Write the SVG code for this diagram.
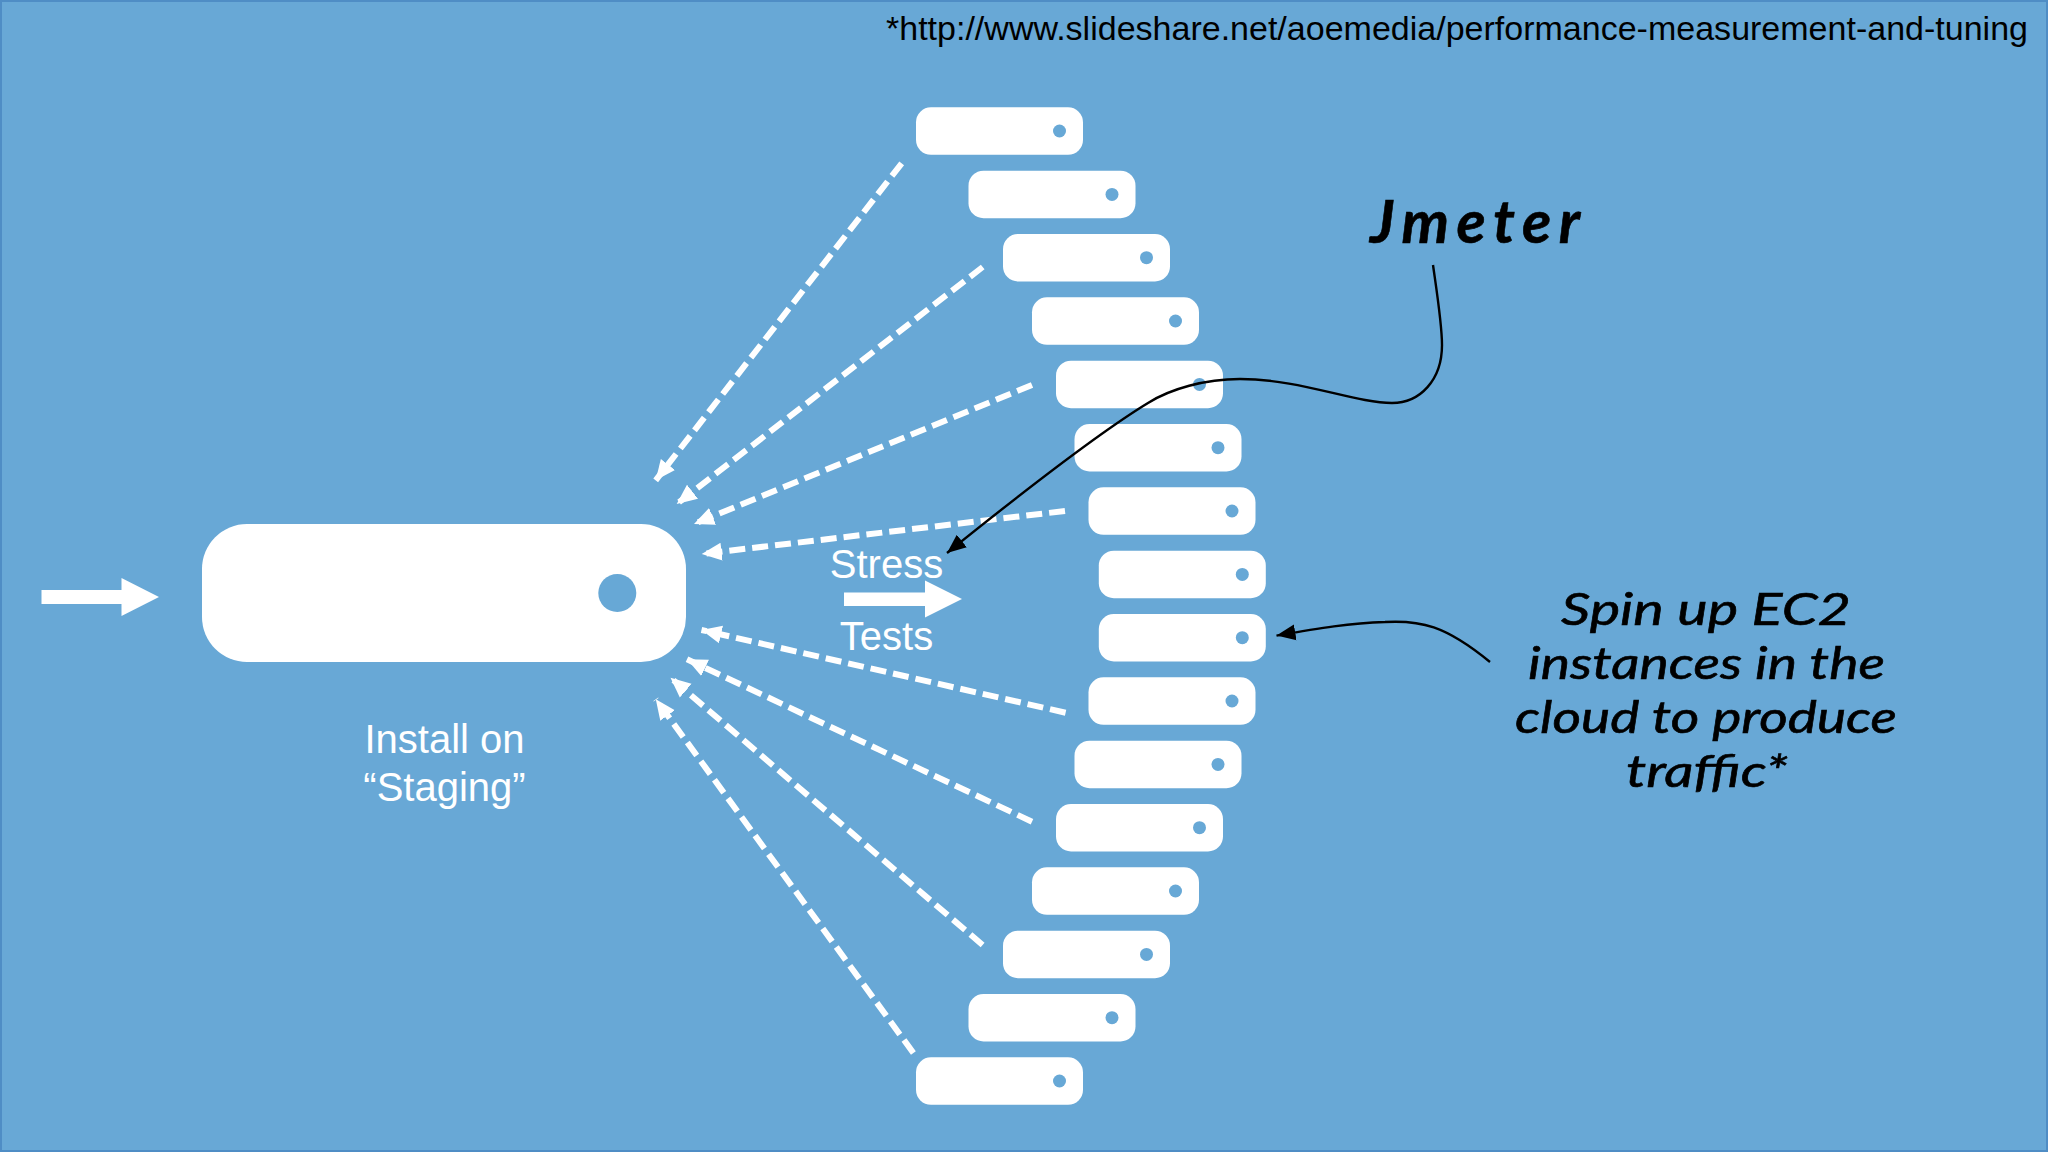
<svg xmlns="http://www.w3.org/2000/svg" width="2048" height="1152" viewBox="0 0 2048 1152">
<style>
.pill{fill:#fff}
.hole{fill:#67a8d6}
.dash{fill:none;stroke:#fff;stroke-width:6;stroke-dasharray:16 7;marker-end:url(#wh)}
.curve{fill:none;stroke:#000;stroke-width:2.400}
.lbl{font-family:"Liberation Sans",Arial,sans-serif;fill:#fff;font-size:40px;text-anchor:middle}
.hand{font-family:Lato,"Open Sans",sans-serif;font-style:italic;fill:#000;stroke:#000;stroke-width:.6;font-size:44px}
#jmeter-label{font-size:60px;font-weight:700}
</style>
<defs>
<marker id="wh" markerUnits="userSpaceOnUse" markerWidth="22" markerHeight="20" refX="20" refY="9.500" orient="auto"><path d="M20 9.500L0 0.500L0 18.500Z" fill="#fff"/></marker>
<marker id="bk" markerUnits="userSpaceOnUse" markerWidth="20" markerHeight="20" refX="19" refY="9" orient="auto"><path d="M19 9L0 1L0 17Z" fill="#000"/></marker>
<rect id="srv" class="pill" width="167" height="47.500" rx="15" ry="15"/>
</defs>
<rect id="background" x="1" y="1" width="2046" height="1150" fill="#68a8d6" stroke="#4f8dc5" stroke-width="2"/>
<text id="source" x="886" y="40" font-family="'Liberation Sans',Arial,sans-serif" font-size="33" fill="#000" textLength="1142" lengthAdjust="spacingAndGlyphs">*http://www.slideshare.net/aoemedia/performance-measurement-and-tuning</text>
<g id="staging">
<rect class="pill" x="202" y="524" width="484" height="138" rx="45" ry="45"/>
<circle class="hole" cx="617.300" cy="593" r="19"/>
<text class="lbl" x="444.500" y="753">Install on</text>
<text class="lbl" x="444.500" y="801">“Staging”</text>
</g>
<g id="instances">
<g id="i1"><use href="#srv" x="916" y="107.300"/><circle class="hole" cx="1059.500" cy="131" r="6.500"/></g>
<g id="i2"><use href="#srv" x="968.500" y="170.700"/><circle class="hole" cx="1112" cy="194.400" r="6.500"/></g>
<g id="i3"><use href="#srv" x="1003" y="234"/><circle class="hole" cx="1146.500" cy="257.700" r="6.500"/></g>
<g id="i4"><use href="#srv" x="1032" y="297.300"/><circle class="hole" cx="1175.500" cy="321" r="6.500"/></g>
<g id="i5"><use href="#srv" x="1056" y="360.700"/><circle class="hole" cx="1199.500" cy="384.400" r="6.500"/></g>
<g id="i6"><use href="#srv" x="1074.500" y="424"/><circle class="hole" cx="1218" cy="447.700" r="6.500"/></g>
<g id="i7"><use href="#srv" x="1088.500" y="487.300"/><circle class="hole" cx="1232" cy="511" r="6.500"/></g>
<g id="i8"><use href="#srv" x="1098.800" y="550.700"/><circle class="hole" cx="1242.300" cy="574.400" r="6.500"/></g>
<g id="i9"><use href="#srv" x="1098.800" y="614"/><circle class="hole" cx="1242.300" cy="637.700" r="6.500"/></g>
<g id="i10"><use href="#srv" x="1088.500" y="677.300"/><circle class="hole" cx="1232" cy="701" r="6.500"/></g>
<g id="i11"><use href="#srv" x="1074.500" y="740.700"/><circle class="hole" cx="1218" cy="764.400" r="6.500"/></g>
<g id="i12"><use href="#srv" x="1056" y="804"/><circle class="hole" cx="1199.500" cy="827.700" r="6.500"/></g>
<g id="i13"><use href="#srv" x="1032" y="867.300"/><circle class="hole" cx="1175.500" cy="891" r="6.500"/></g>
<g id="i14"><use href="#srv" x="1003" y="930.700"/><circle class="hole" cx="1146.500" cy="954.400" r="6.500"/></g>
<g id="i15"><use href="#srv" x="968.500" y="994"/><circle class="hole" cx="1112" cy="1017.700" r="6.500"/></g>
<g id="i16"><use href="#srv" x="916" y="1057.300"/><circle class="hole" cx="1059.500" cy="1081" r="6.500"/></g>
</g>
<g id="connectors">
<path class="dash" d="M901.700 163.300L655.700 480.300"/>
<path class="dash" d="M982.700 267L676.700 504"/>
<path class="dash" d="M1032 385L694 524"/>
<path class="dash" d="M1065 511L701.700 554"/>
<path class="dash" d="M1065.600 712.700L701.500 630"/>
<path class="dash" d="M1032 821.700L687 659.300"/>
<path class="dash" d="M982.600 945L670.500 677.700"/>
<path class="dash" d="M913.400 1053L655.800 699.300"/>
<path id="in-arrow" d="M41.500 590H121.500V578L159 597L121.500 616V604H41.500Z" fill="#fff"/>
<path id="stress-arrow" d="M844 592.500H925V580.500L962 599L925 617.500V606H844Z" fill="#fff"/>
<path class="curve" marker-end="url(#bk)" d="M1433 265C1438 300 1442 325 1442 345C1442 380 1420 403 1392 403C1355 403 1300 379 1240 379C1205 379 1170 389 1148 403C1120 420 1060 462 947 553"/>
<path class="curve" marker-end="url(#bk)" d="M1490 662C1445 625 1420 620 1385 622C1350 623 1320 628 1276.500 635.600"/>
</g>
<g id="stress-label">
<text class="lbl" x="886.500" y="578">Stress</text>
<text class="lbl" x="886.500" y="650">Tests</text>
</g>
<g id="jmeter-note">
<text id="jmeter-label" class="hand" x="1370" y="243" textLength="210">Jmeter</text>
</g>
<g id="ec2-note">
<text class="hand" x="1561" y="625" textLength="290" lengthAdjust="spacingAndGlyphs">Spin up EC2</text>
<text class="hand" x="1528" y="679" textLength="357" lengthAdjust="spacingAndGlyphs">instances in the</text>
<text class="hand" x="1515" y="733" textLength="382" lengthAdjust="spacingAndGlyphs">cloud to produce</text>
<text class="hand" x="1626" y="787" textLength="162" lengthAdjust="spacingAndGlyphs">traffic*</text>
</g>
</svg>
